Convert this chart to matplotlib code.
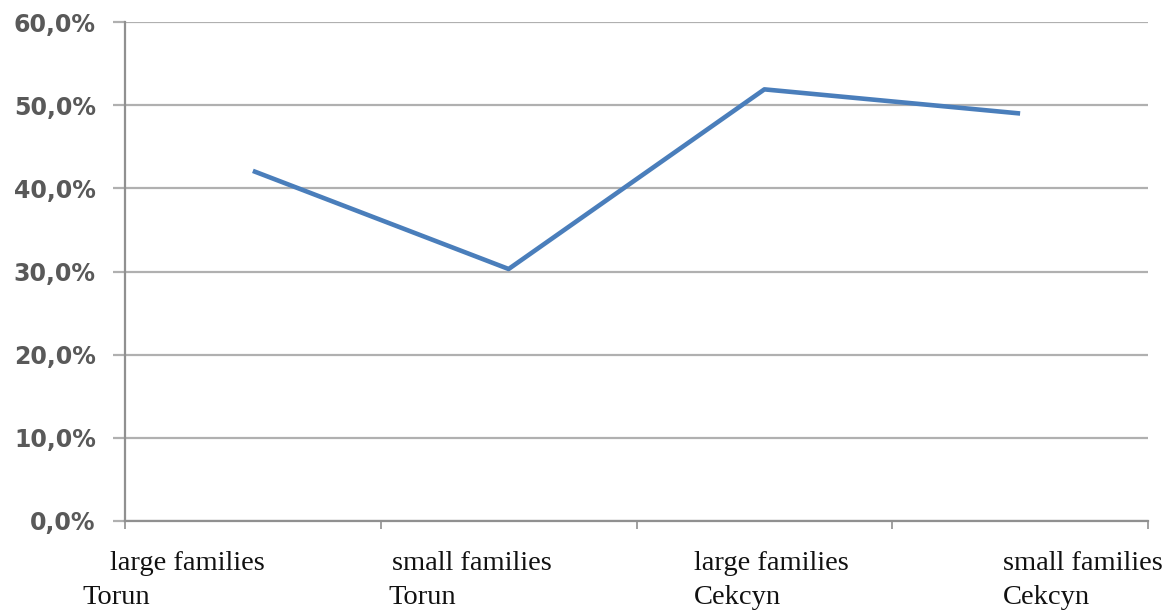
import numpy as np
import matplotlib.pyplot as plt
from matplotlib.ticker import FuncFormatter

# values (in %)
categories = ["large families\nTorun", "small families\nTorun",
              "large families\nCekcyn", "small families\nCekcyn"]
values = [42.1, 30.3, 51.9, 49.0]
y_ticks = [0, 10, 20, 30, 40, 50, 60]

W, H = 1172, 611
fig = plt.figure(figsize=(W / 100, H / 100), dpi=100)
ax = fig.add_axes([125 / W, (H - 521) / H, (1148 - 125) / W, (521 - 22) / H])

x = np.arange(len(values))
ax.plot(x, values, color="#4a7ebb", linewidth=3.3, solid_capstyle="butt", zorder=3)

ax.set_xlim(-0.5, len(values) - 0.5)
ax.set_ylim(0, 60)
ax.set_yticks(y_ticks)
ax.yaxis.set_major_formatter(FuncFormatter(lambda v, p: f"{v:.1f}%".replace(".", ",")))
ax.yaxis.grid(True, color="#b0b0b0", linewidth=1.6)
ax.set_axisbelow(True)

# category boundaries as tick marks
ax.set_xticks(np.arange(len(values) + 1) - 0.5)
ax.set_xticklabels([])
ax.tick_params(axis="x", direction="out", length=6, width=1.2, color="#909090")
ax.tick_params(axis="y", direction="out", length=9, width=1.6, color="#b0b0b0",
               labelsize=17, labelcolor="#595959", pad=12)
for lab in ax.get_yticklabels():
    lab.set_fontweight("bold")

for s in ["top", "right"]:
    ax.spines[s].set_visible(False)
for s in ["left", "bottom"]:
    ax.spines[s].set_color("#909090")
    ax.spines[s].set_linewidth(1.6)

# two-line serif labels, lines placed as in the original
line_pos = [((110, 563), (82, 598)), ((392, 563), (388, 598)),
            ((694, 563), (694, 598)), ((1003, 563), (1003, 598))]
for cat, pos in zip(categories, line_pos):
    for txt, (px, py) in zip(cat.split("\n"), pos):
        fig.text(px / W, 1 - py / H, txt, ha="left", va="center",
                 fontsize=20.5, family="Liberation Serif", color="#111111")

fig.savefig("out.png", dpi=100)
